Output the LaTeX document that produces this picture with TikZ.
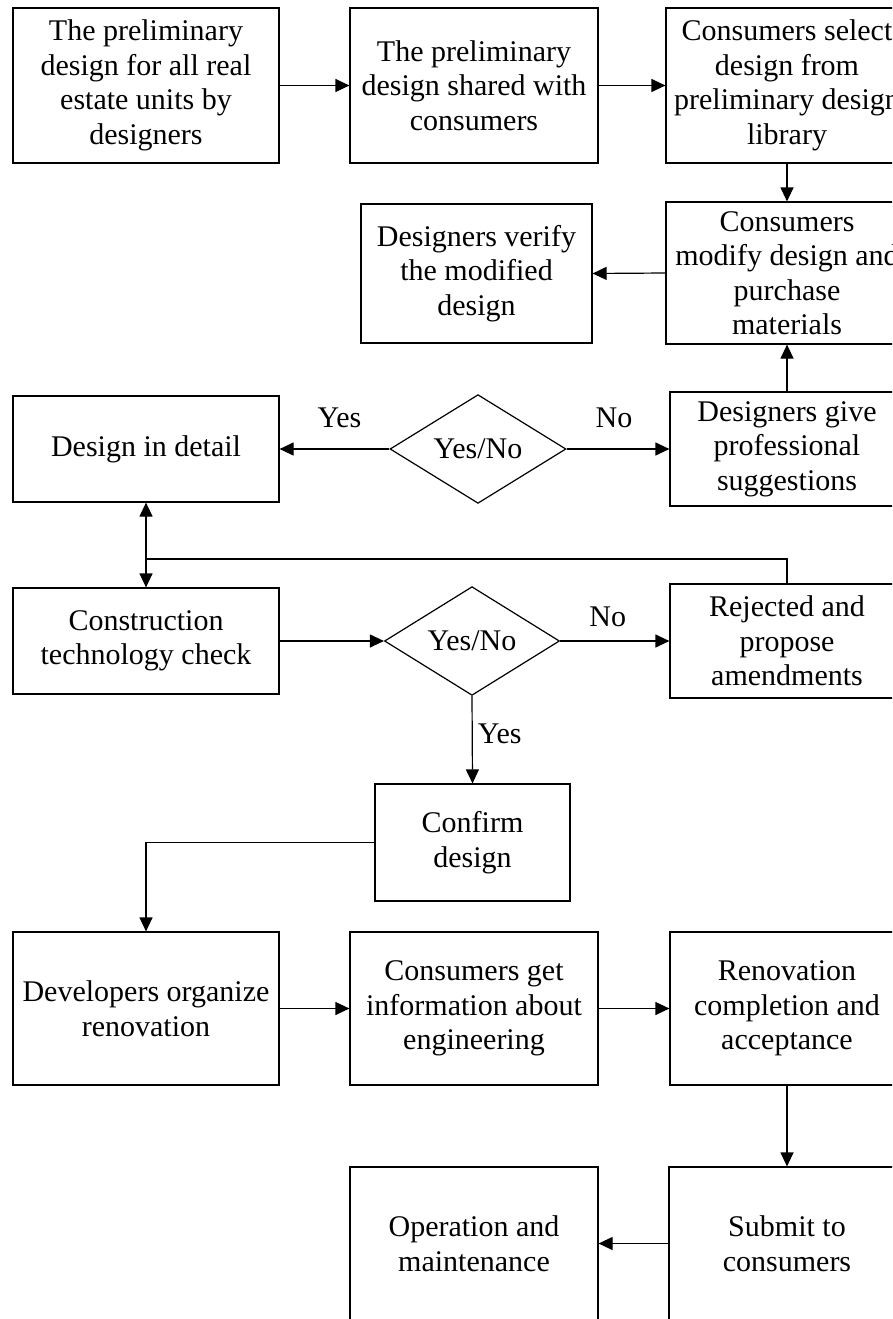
\documentclass[tikz,border=0pt]{standalone}
\usepackage{fontspec}
\setmainfont{Liberation Serif}
\usepackage{tikz}
\usetikzlibrary{shapes.geometric}
\usetikzlibrary{arrows.meta, positioning}

\begin{document}
\begin{tikzpicture}[
		x=1pt, y=-1pt, % y grows downwards
		line width=1.2pt,
		>={Triangle[length=14pt, width=13pt]},
		every node/.style={
				font=\fontsize{30}{34.5}\selectfont,
				align=center,
				inner sep=0pt
			},
		stage/.style={
				draw,
				rectangle
			},
		decide/.style={
				draw,
				diamond,
				minimum width=176pt,
				minimum height=106pt
			}
	]
	\useasboundingbox (0, 0) rectangle (892, 1319);
	\clip (0, 0) rectangle (892, 1319);

	% first row
	\node[stage, minimum width=266pt, minimum height=155pt] (prelim) at (146, 85.5)
		{The preliminary\\design for all real\\estate units by\\designers};
	\node[stage, minimum width=248pt, minimum height=155pt] (shared) at (474, 85.5)
		{The preliminary\\design shared with\\consumers};
	\node[stage, minimum width=242pt, minimum height=155pt] (select) at (787, 85.5)
		{Consumers select\\design from\\preliminary design\\library};

	% second row
	\node[stage, minimum width=231pt, minimum height=139pt] (verify) at (476.5, 273.5)
		{Designers verify\\the modified\\design};
	\node[stage, minimum width=242pt, minimum height=142pt] (modify) at (787, 273)
		{Consumers\\modify design and\\purchase\\materials};

	% design check
	\node[stage, minimum width=266pt, minimum height=106pt] (detail) at (146, 449)
		{Design in detail};
	\node[decide] (dia1) at (478, 449) {Yes/No};
	\node[stage, minimum width=234pt, minimum height=114pt] (suggest) at (787, 449)
		{Designers give\\professional\\suggestions};

	% construction check
	\node[stage, minimum width=266pt, minimum height=106pt] (construct) at (146, 641)
		{Construction\\technology check};
	\node[decide, minimum width=175pt] (dia2) at (472, 641) {Yes/No};
	\node[stage, minimum width=234pt, minimum height=114pt] (reject) at (787, 641)
		{Rejected and\\propose\\amendments};

	\node[stage, minimum width=195pt, minimum height=117pt] (confirm) at (472.5, 842.5)
		{Confirm\\design};

	% renovation
	\node[stage, minimum width=266pt, minimum height=153pt] (develop) at (146, 1008.5)
		{Developers organize\\renovation};
	\node[stage, minimum width=248pt, minimum height=153pt] (getinfo) at (474, 1008.5)
		{Consumers get\\information about\\engineering};
	\node[stage, minimum width=234pt, minimum height=153pt] (renov) at (787, 1008.5)
		{Renovation\\completion and\\acceptance};

	\node[stage, minimum width=248pt, minimum height=153pt] (operate) at (474, 1243.5)
		{Operation and\\maintenance};
	\node[stage, minimum width=236pt, minimum height=153pt] (submit) at (787, 1243.5)
		{Submit to\\consumers};

	\coordinate (join) at (146, 559);

	\draw[->] (prelim.east) -- (shared.west);
	\draw[->] (shared.east) -- (select.west);
	\draw[->] (select.south) -- (modify.north);
	\draw[->] (modify.west) -- (verify.east);
	\draw[->] (suggest.north) -- (modify.south);

	\draw[->] (dia1.west) -- (detail.east) node[midway, above=21pt, xshift=5pt] {Yes};
	\draw[->] (dia1.east) -- (suggest.west) node[midway, above=21pt, xshift=-4pt] {No};

	\draw[<->] (detail.south) -- (construct.north);
	\draw (reject.north) |- (join);

	\draw[->] (construct.east) -- (dia2.west);
	\draw[->] (dia2.east) -- (reject.west) node[midway, above=14pt, xshift=-7pt] {No};
	\draw[->] (dia2.south) -- (confirm.north) node[midway, right=5pt, yshift=6pt] {Yes};

	\draw[->] (confirm.west) -| (develop.north);
	\draw[->] (develop.east) -- (getinfo.west);
	\draw[->] (getinfo.east) -- (renov.west);
	\draw[->] (renov.south) -- (submit.north);
	\draw[->] (submit.west) -- (operate.east);
\end{tikzpicture}
\end{document}
